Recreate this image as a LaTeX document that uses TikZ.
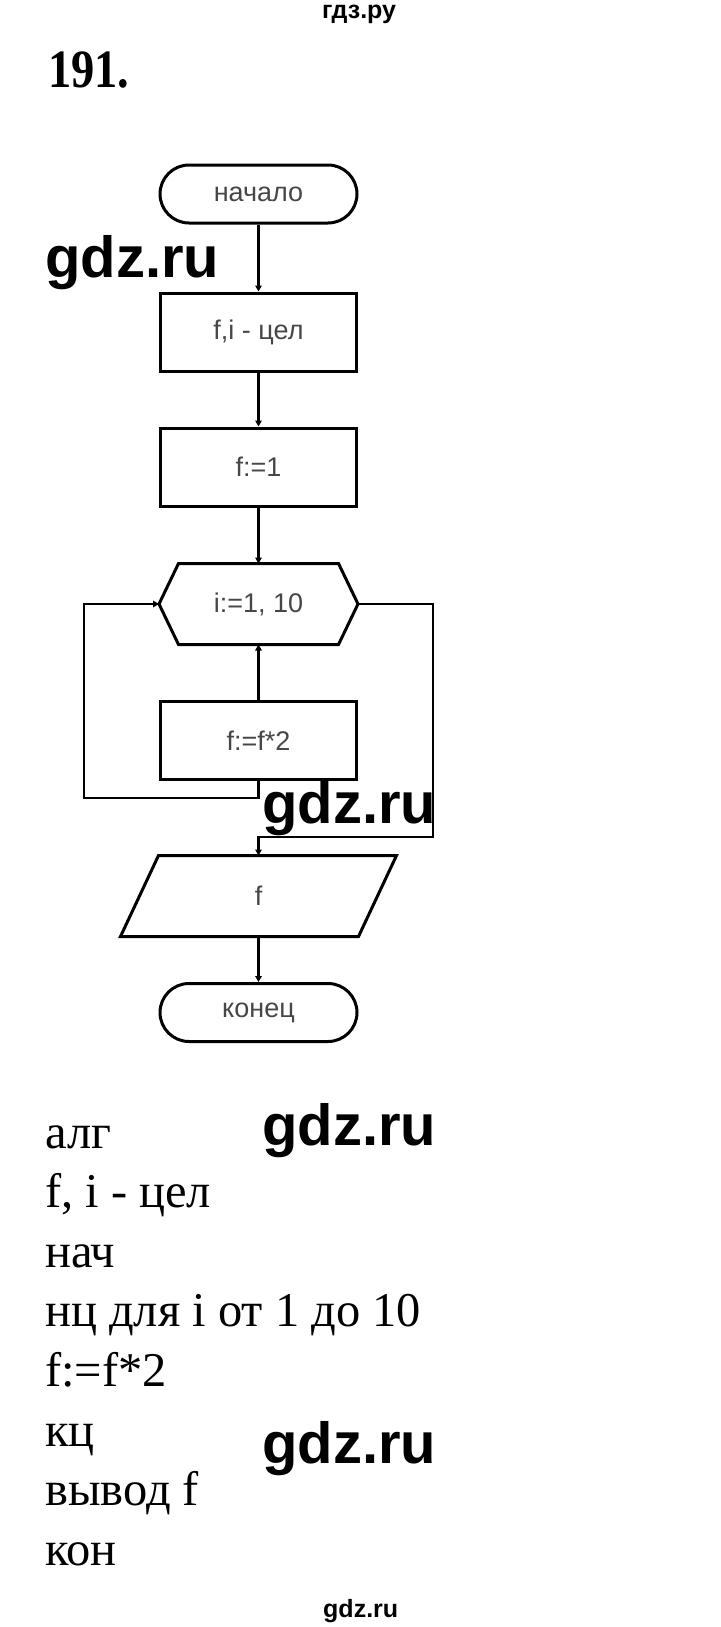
\documentclass[tikz,border=0pt]{standalone}
\usepackage{fontspec}
\setmainfont{Liberation Serif}
\newfontfamily\arialf{Liberation Sans}
\usepackage{graphicx}
\usetikzlibrary{arrows.meta}
\begin{document}
\begin{tikzpicture}[x=1pt,y=-1pt,
  shp/.style={draw=black, line width=3pt},
  fc/.style={font=\arialf\fontsize{27}{30}\selectfont, text=black!72},
  term/.style={rectangle, rounded corners=29pt, minimum width=197pt, minimum height=58pt, inner sep=0pt},
  proc/.style={rectangle, minimum width=196pt, minimum height=78pt, inner sep=0pt},
  ghost/.style={rectangle, minimum width=196pt, minimum height=78pt, inner sep=0pt, outer sep=1.5pt},
  conn/.style={line width=2.4pt, -{Triangle[length=6pt,width=6.5pt]}},
  code/.style={font=\fontsize{48.5}{52}\selectfont, anchor=base west, inner sep=0pt},
  wm/.style={font=\arialf\bfseries\fontsize{58}{60}\selectfont, anchor=base west, inner sep=0pt},
  wms/.style={font=\arialf\bfseries\fontsize{25}{27}\selectfont, anchor=base west, inner sep=0pt}
]
\fill[white] (0,0) rectangle (720,1627);
\useasboundingbox (0,0) rectangle (720,1627);

% header
\node[wms] (top) at (322,18.5) {гдз.ру};
\node[font=\bfseries\fontsize{54}{56}\selectfont, anchor=base west, inner sep=0pt] (num) at (48,88) {\scalebox{0.86}[1]{191.}};

% flowchart nodes
\node[term, shp, fc] (start) at (258.5,194) {начало};
\node[proc, shp, fc] (box1) at (258.5,332) {f,i - цел};
\node[proc, shp, fc] (box2) at (258.5,467) {f:=1};
\node[ghost, fc] (hex) at (258.5,604) {i:=1, 10};
\node[proc, shp, fc] (box3) at (258.5,740.5) {f:=f*2};
\node[proc, minimum width=197pt, outer sep=1.5pt, fc] (para) at (258.5,896) {f};
\node[term, shp, fc] (stop) at (258.5,1012.5) {конец};

% hexagon outline
\draw[shp, line join=miter] (hex.west) -- ([xshift=19.5pt]hex.north west) -- ([xshift=-19.5pt]hex.north east)
  -- (hex.east) -- ([xshift=-19.5pt]hex.south east) -- ([xshift=19.5pt]hex.south west) -- cycle;
% parallelogram outline
\draw[shp, line join=miter] (para.north west) -- ([xshift=38pt]para.north east) -- (para.south east)
  -- ([xshift=-38pt]para.south west) -- cycle;

% connectors
\coordinate (lb) at (84,798);
\coordinate (rb) at (433,837);
\draw[conn] (start) -- (box1);
\draw[conn] (box1) -- (box2);
\draw[conn] (box2) -- (hex);
\draw[conn] (box3) -- (hex);
\draw[conn] (box3.south) |- (lb) |- (hex.west);
\draw[conn] (hex.east) -| (rb) -| (para.north);
\draw[conn] (para) -- (stop);

% code listing
\node[code] (l1) at (45,1148) {алг};
\node[code] (l2) at (45,1207.6) {f, i - цел};
\node[code] (l3) at (45,1267.2) {нач};
\node[code] (l4) at (45,1326.8) {нц для i от 1 до 10};
\node[code] (l5) at (45,1386.4) {f:=f*2};
\node[code] (l6) at (45,1446) {кц};
\node[code] (l7) at (45,1505.6) {вывод f};
\node[code] (l8) at (45,1565.2) {кон};

% watermarks
\node[wm] (wm1) at (45,277) {gdz.ru};
\node[wm] (wm2) at (262,823) {gdz.ru};
\node[wm] (wm3) at (262,1145) {gdz.ru};
\node[wm] (wm4) at (262,1463) {gdz.ru};
\node[wms] (wm5) at (323,1617) {gdz.ru};
\end{tikzpicture}
\end{document}
